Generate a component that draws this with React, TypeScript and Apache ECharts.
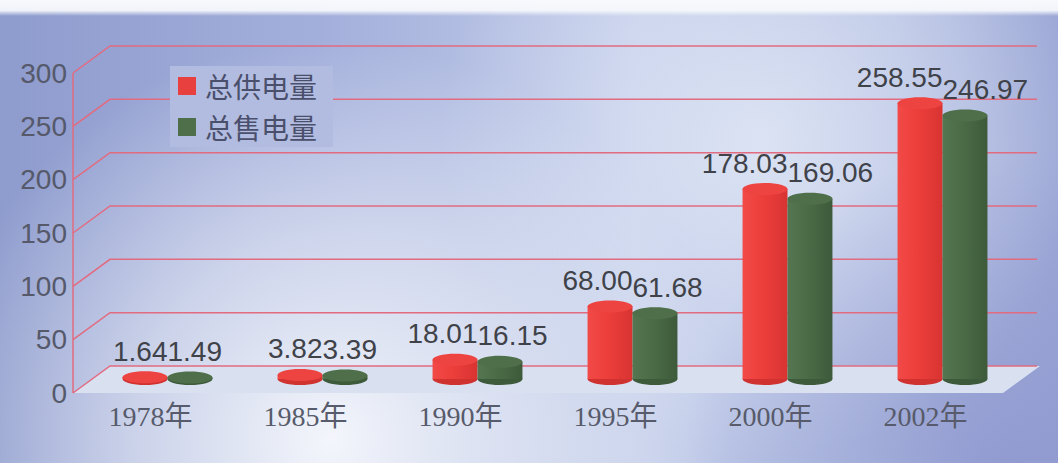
import React, { useEffect, useRef } from "react";
import * as echarts from "echarts";

const years = ["1978年", "1985年", "1990年", "1995年", "2000年", "2002年"];
const supplyValues = [1.64, 3.82, 18.01, 68.0, 178.03, 258.55];
const salesValues = [1.49, 3.39, 16.15, 61.68, 169.06, 246.97];
const yTicks = [0, 50, 100, 150, 200, 250, 300];
const seriesNames = ["总供电量", "总售电量"];

const BACK_DX = 37;
const BACK_DY = -27;
const BAR_DX = 17;
const BAR_DY = -14;
const GRID_PINK = "#e26b80";

const barColors = [
  { l: "#f24a47", m: "#ec3e3b", r: "#d83432", top: "#ee4441", bottom: "#d03230", legend: "#e8403e" },
  { l: "#547650", m: "#4b6b46", r: "#3d5a3a", top: "#4f6f4a", bottom: "#3d5a3a", legend: "#4f6e4a" },
];

function makeCylinder(k: number) {
  return (params: any, api: any) => {
    const i = api.value(0);
    const v = api.value(1);
    const top = api.coord([i, v]);
    const base = api.coord([i, 0]);
    const band = api.size([1, 0])[0];
    const w = band * 0.29;
    const pairX = top[0] + BAR_DX;
    const cx = pairX + (k === 0 ? -w / 2 : w / 2);
    const ty = top[1] + BAR_DY;
    const by = base[1] + BAR_DY;
    const rx = w / 2;
    const ry = 6;
    const c = barColors[k];
    const grad = new echarts.graphic.LinearGradient(0, 0, 1, 0, [
      { offset: 0, color: c.l },
      { offset: 0.45, color: c.m },
      { offset: 1, color: c.r },
    ]);
    return {
      type: "group",
      children: [
        { type: "ellipse", shape: { cx, cy: by, rx, ry }, style: { fill: c.bottom } },
        { type: "rect", shape: { x: cx - rx, y: ty, width: w, height: Math.max(0, by - ty) }, style: { fill: grad } },
        { type: "ellipse", shape: { cx, cy: ty, rx, ry }, style: { fill: c.top } },
        {
          type: "text",
          style: {
            text: v.toFixed(2),
            x: pairX,
            y: ty - 12,
            align: k === 0 ? "right" : "left",
            verticalAlign: "bottom",
            fill: "#404249",
            font: '28px "Liberation Sans", Arial, sans-serif',
          },
        },
      ],
    };
  };
}

export default function App() {
  const ref = useRef<HTMLDivElement>(null);
  useEffect(() => {
    if (!ref.current) return;
    const chart = echarts.init(ref.current, null, { renderer: "svg" });
    const W = 1058;
    const H = 463;
    const option: any = {
      animation: false,
      backgroundColor: new echarts.graphic.LinearGradient(0, 0, 1, 0, [
        { offset: 0, color: "#8e9bcd" },
        { offset: 0.3, color: "#a3afdb" },
        { offset: 0.6, color: "#c3cdea" },
        { offset: 0.85, color: "#b4bfe2" },
        { offset: 1, color: "#9ea9d7" },
      ]),
      graphic: [
        {
          type: "rect", z: -1, silent: true,
          shape: { x: 0, y: 0, width: W, height: H },
          style: { fill: new echarts.graphic.RadialGradient(330, 440, 400, [
            { offset: 0, color: "rgba(245,247,252,0.98)" },
            { offset: 0.5, color: "rgba(236,240,248,0.6)" },
            { offset: 1, color: "rgba(236,240,248,0)" },
          ], true) },
        },
        {
          type: "rect", z: -1, silent: true,
          shape: { x: 0, y: 0, width: W, height: H },
          style: { fill: new echarts.graphic.RadialGradient(760, 140, 320, [
            { offset: 0, color: "rgba(226,233,246,0.8)" },
            { offset: 1, color: "rgba(226,233,246,0)" },
          ], true) },
        },
        {
          type: "rect", z: -1, silent: true,
          shape: { x: 0, y: 0, width: W, height: H },
          style: { fill: new echarts.graphic.RadialGradient(1010, 480, 330, [
            { offset: 0, color: "rgba(140,150,206,0.85)" },
            { offset: 1, color: "rgba(140,150,206,0)" },
          ], true) },
        },
        {
          type: "rect", z: -1, silent: true,
          shape: { x: 0, y: 0, width: W, height: 16 },
          style: { fill: new echarts.graphic.LinearGradient(0, 0, 0, 1, [
            { offset: 0, color: "rgba(248,249,252,1)" },
            { offset: 0.65, color: "rgba(246,248,252,0.95)" },
            { offset: 1, color: "rgba(246,248,252,0)" },
          ]) },
        },
      ],
      legend: {
        orient: "vertical",
        left: 170,
        top: 66,
        icon: "rect",
        itemWidth: 18,
        itemHeight: 18,
        itemGap: 13,
        padding: [6, 16, 6, 8],
        backgroundColor: "#b2bce0",
        data: seriesNames,
        textStyle: {
          fontSize: 28,
          color: "#4a4f6c",
          fontFamily: '"Noto Sans CJK SC", sans-serif',
          padding: [0, 0, 0, 4],
        },
      },
      grid: { left: 73, top: 73, width: 930, height: 320 },
      xAxis: {
        type: "category",
        data: years,
        axisLine: { show: false },
        axisTick: { show: false },
        splitLine: { show: false },
        axisLabel: {
          margin: 9,
          fontSize: 28,
          color: "#575b6b",
          fontFamily: '"Liberation Serif", "Noto Sans CJK SC", serif',
        },
      },
      yAxis: {
        type: "value",
        min: 0,
        max: 300,
        interval: 50,
        axisLine: { show: false },
        axisTick: { show: false },
        splitLine: { show: false },
        axisLabel: {
          margin: 6,
          fontSize: 28,
          color: "#55596a",
          fontFamily: '"Liberation Sans", Arial, sans-serif',
        },
      },
      series: [
        {
          type: "custom",
          name: "floor",
          z: 1,
          silent: true,
          data: [[0, 0]],
          renderItem: (params: any, api: any) => {
            const p0 = api.coord([0, 0]);
            const pTop = api.coord([0, 300]);
            const band = api.size([1, 0])[0];
            const x0 = p0[0] - band / 2;
            const xEnd = x0 + band * years.length;
            const y0 = p0[1];
            return {
              type: "group",
              children: [
                {
                  type: "polygon",
                  shape: { points: [[x0, y0], [x0 + BACK_DX, y0 + BACK_DY], [xEnd + BACK_DX, y0 + BACK_DY], [xEnd, y0]] },
                  style: { fill: "#d9e0f0" },
                },
                {
                  type: "line",
                  shape: { x1: x0, y1: pTop[1], x2: x0, y2: y0 },
                  style: { stroke: GRID_PINK, lineWidth: 1.5 },
                },
              ],
            };
          },
        },
        {
          type: "custom",
          name: "frame",
          z: 1,
          silent: true,
          data: yTicks.map((v) => [0, v]),
          renderItem: (params: any, api: any) => {
            const v = api.value(1);
            const p = api.coord([0, v]);
            const band = api.size([1, 0])[0];
            const x0 = p[0] - band / 2;
            const xEnd = x0 + band * years.length;
            return {
              type: "polyline",
              shape: { points: [[x0, p[1]], [x0 + BACK_DX, p[1] + BACK_DY], [xEnd + BACK_DX - 3, p[1] + BACK_DY]] },
              style: { stroke: GRID_PINK, lineWidth: 1.5, fill: null },
            };
          },
        },
        {
          type: "custom",
          name: seriesNames[0],
          z: 3,
          itemStyle: { color: barColors[0].legend },
          data: supplyValues.map((v, i) => [i, v]),
          renderItem: makeCylinder(0),
        },
        {
          type: "custom",
          name: seriesNames[1],
          z: 4,
          itemStyle: { color: barColors[1].legend },
          data: salesValues.map((v, i) => [i, v]),
          renderItem: makeCylinder(1),
        },
      ],
    };
    chart.setOption(option);
    return () => chart.dispose();
  }, []);
  return (
    <div
      ref={ref}
      style={{ position: "fixed", left: 0, top: 0, width: 1058, height: 463 }}
    />
  );
}
